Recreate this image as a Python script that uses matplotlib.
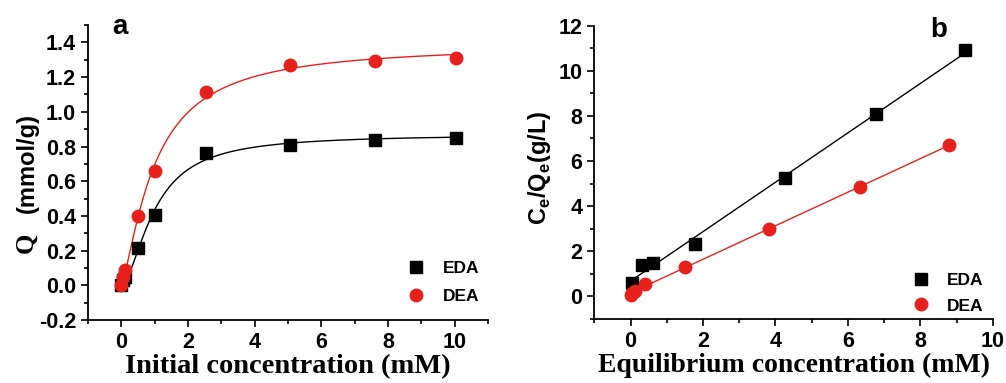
import numpy as np
import matplotlib.pyplot as plt

plt.rcParams['font.family'] = ['Liberation Sans', 'DejaVu Sans']
plt.rcParams['font.weight'] = 'bold'
plt.rcParams['mathtext.fontset'] = 'custom'
plt.rcParams['mathtext.rm'] = 'Liberation Sans:bold'
plt.rcParams['mathtext.bf'] = 'Liberation Sans:bold'

RED = '#e6211c'

# (a) adsorption isotherms: initial concentration (mM) vs Q (mmol/g)
c0_eda = [0.0, 0.05, 0.1, 0.5, 1.0, 2.55, 5.05, 7.6, 10.05]
q_eda = [0.0, 0.03, 0.05, 0.215, 0.405, 0.763, 0.81, 0.838, 0.848]
c0_dea = [0.0, 0.05, 0.1, 0.5, 1.0, 2.55, 5.05, 7.6, 10.05]
q_dea = [0.0, 0.05, 0.088, 0.40, 0.66, 1.117, 1.268, 1.295, 1.309]

# (b) linearised Langmuir: equilibrium concentration (mM) vs Ce/Qe (g/L)
ce_eda = [0.05, 0.32, 0.61, 1.79, 4.27, 6.79, 9.24]
r_eda = [0.59, 1.40, 1.48, 2.32, 5.25, 8.09, 10.9]
ce_dea = [0.0, 0.05, 0.12, 0.39, 1.49, 3.82, 6.33, 8.79]
r_dea = [0.08, 0.15, 0.26, 0.56, 1.30, 2.98, 4.87, 6.69]


def hill_fit(c, q):
    # brute-force least squares for q = qm*c^n/(K^n + c^n), qm solved linearly
    c = np.asarray(c, float)
    q = np.asarray(q, float)
    best = None
    for K in np.linspace(0.3, 3.0, 136):
        for n in np.linspace(0.6, 3.0, 121):
            f = c ** n / (K ** n + c ** n)
            qm = (f @ q) / (f @ f)
            err = np.sum((qm * f - q) ** 2)
            if best is None or err < best[0]:
                best = (err, qm, K, n)
    _, qm, K, n = best
    return lambda x: qm * x ** n / (K ** n + x ** n)


def style_axes(ax):
    for s in ['top', 'right']:
        ax.spines[s].set_visible(False)
    for s in ['left', 'bottom']:
        ax.spines[s].set_linewidth(1.3)
    ax.tick_params(which='both', direction='out', width=1.2, labelsize=15.5)
    ax.tick_params(which='major', length=5)
    ax.tick_params(which='minor', length=3)
    for lab in ax.get_xticklabels() + ax.get_yticklabels():
        lab.set_fontweight('bold')


def bold_legend(ax, anchor, spacing):
    leg = ax.legend(loc='lower right', bbox_to_anchor=anchor, frameon=False,
                    fontsize=12.5, handlelength=1.0, handletextpad=1.0,
                    labelspacing=spacing, borderaxespad=0.0)
    for t in leg.get_texts():
        t.set_fontweight('bold')


fig = plt.figure(figsize=(10.06, 3.83), dpi=100)
ax1 = fig.add_axes([0.0875, 0.1645, 0.3975, 0.770])
ax2 = fig.add_axes([0.5908, 0.167, 0.396, 0.766])

# panel a
xs = np.linspace(0, 10.05, 400)
f_eda = hill_fit(c0_eda, q_eda)
f_dea = hill_fit(c0_dea, q_dea)
ax1.plot(xs, f_eda(xs), color='black', lw=1.0)
ax1.plot(xs, f_dea(xs), color=RED, lw=1.0)
ax1.plot(c0_eda, q_eda, 's', color='black', ms=8.5, label='EDA')
ax1.plot(c0_dea, q_dea, 'o', color=RED, ms=9, label='DEA')
ax1.set_xlim(-1, 11)
ax1.set_ylim(-0.2, 1.5)
ax1.set_xticks([0, 2, 4, 6, 8, 10])
ax1.set_xticks(np.arange(-1, 11.5, 1), minor=True)
ax1.set_yticks(np.arange(-0.2, 1.41, 0.2))
ax1.set_yticks(np.arange(-0.2, 1.51, 0.1), minor=True)
ax1.yaxis.set_major_formatter(plt.FormatStrFormatter('%.1f'))
style_axes(ax1)
ax1.set_xlabel('Initial concentration (mM)', family='Liberation Serif',
               fontsize=20.5, fontweight='bold', labelpad=1)
bold_legend(ax1, (0.995, 0.03), 0.75)
fig.text(0.026, 1 - 243 / 383, 'Q', family='Liberation Serif', fontsize=19,
         fontweight='bold', rotation=90, ha='center', va='center')
fig.text(0.027, 1 - 163 / 383, '(mmol/g)', fontsize=17, fontweight='bold',
         rotation=90, ha='center', va='center')
fig.text(120 / 1006, 1 - 27 / 383, 'a', fontsize=20, fontweight='bold',
         ha='center', va='center')

# panel b
for ce, r, mk, col, ms, lab in [(ce_eda, r_eda, 's', 'black', 8.5, 'EDA'),
                               (ce_dea, r_dea, 'o', RED, 9, 'DEA')]:
    k, b0 = np.polyfit(ce, r, 1)
    xl = np.array([min(ce), max(ce)])
    ax2.plot(xl, k * xl + b0, color=col, lw=1.0)
    ax2.plot(ce, r, mk, color=col, ms=ms, label=lab)
ax2.set_xlim(-1, 10)
ax2.set_ylim(-1, 12)
ax2.set_xticks([0, 2, 4, 6, 8, 10])
ax2.set_xticks(np.arange(-1, 10.5, 1), minor=True)
ax2.set_yticks([0, 2, 4, 6, 8, 10, 12])
ax2.set_yticks(np.arange(-1, 12.5, 1), minor=True)
style_axes(ax2)
ax2.set_xlabel('Equilibrium concentration (mM)', family='Liberation Serif',
               fontsize=20, fontweight='bold', labelpad=1)
ax2.set_ylabel(r'C$_{\mathrm{e}}$/Q$_{\mathrm{e}}$(g/L)', fontsize=17,
               fontweight='bold')
ax2.yaxis.set_label_coords(-0.104, 0.515)
bold_legend(ax2, (0.995, -0.005), 0.6)
fig.text(939 / 1006, 1 - 30 / 383, 'b', fontsize=20, fontweight='bold',
         ha='center', va='center')

fig.savefig('out.png', dpi=100)
